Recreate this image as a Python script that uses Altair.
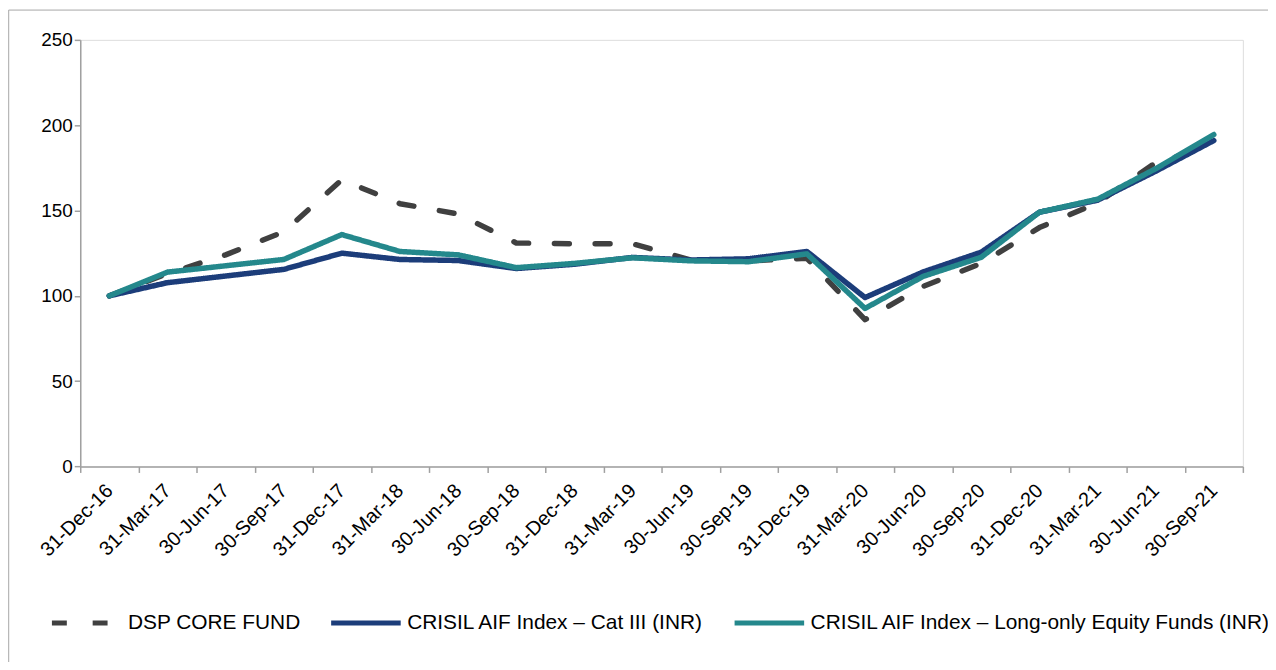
import altair as alt
import pandas as pd

dates = ["31-Dec-16", "31-Mar-17", "30-Jun-17", "30-Sep-17", "31-Dec-17", "31-Mar-18",
         "30-Jun-18", "30-Sep-18", "31-Dec-18", "31-Mar-19", "30-Jun-19", "30-Sep-19",
         "31-Dec-19", "31-Mar-20", "30-Jun-20", "30-Sep-20", "31-Dec-20", "31-Mar-21",
         "30-Jun-21", "30-Sep-21"]

dsp = [100, 113, 124, 137.5, 168, 154, 148, 131, 130.5, 130.5, 121, 120.5, 122, 86,
       105.5, 119, 140, 154.5, 178, 188]
cat3 = [100, 107.7, 111.6, 115.5, 125, 121.3, 120.7, 116, 118.5, 122.5, 121, 121.7, 126,
        99, 114, 125.6, 149, 156, 173, 191]
longonly = [100, 113.9, 117.6, 121.3, 135.9, 126, 124, 116.5, 119, 122.3, 120.5, 120,
            124.6, 92.6, 111.4, 122.6, 149, 156.6, 174.5, 194.5]

series_names = ["DSP CORE FUND",
                "CRISIL AIF Index \u2013 Cat III (INR)",
                "CRISIL AIF Index \u2013 Long-only Equity Funds (INR)"]
series_values = [dsp, cat3, longonly]
colors = ["#404040", "#1c3d7a", "#24888c"]
dashes = [[15, 26], [1, 0], [1, 0]]

FONT = "Liberation Sans"

x_enc = alt.X(
    "date:N", sort=dates, title=None,
    scale=alt.Scale(type="band", paddingInner=0, paddingOuter=0, domain=dates),
    axis=alt.Axis(tickBand="extent", labelAngle=-45, labelAlign="right",
                  labelBaseline="middle", labelPadding=15, labelFontSize=20,
                  labelFont=FONT, labelColor="#000000", domainColor="#a0a0a0",
                  tickColor="#a0a0a0", tickSize=6, domainWidth=1.5, tickWidth=1.5),
)
y_enc = alt.Y(
    "value:Q", title=None,
    scale=alt.Scale(domain=[0, 250], nice=False, zero=True),
    axis=alt.Axis(values=[0, 50, 100, 150, 200, 250], grid=False, labelFontSize=19,
                  labelFont=FONT, labelColor="#000000", domainColor="#a0a0a0",
                  tickColor="#a0a0a0", tickSize=6, labelPadding=2,
                  domainWidth=1.5, tickWidth=1.5),
)
color_enc = alt.Color(
    "series:N", title=None,
    scale=alt.Scale(domain=series_names, range=colors),
    legend=alt.Legend(orient="none", legendX=-31, legendY=549, direction="horizontal",
                      symbolType="stroke", symbolSize=4900, symbolStrokeWidth=5,
                      labelFontSize=21, labelFont=FONT, labelColor="#000000",
                      labelOffset=4, columnPadding=20, labelLimit=1000),
)
dash_enc = alt.StrokeDash(
    "series:N", title=None,
    scale=alt.Scale(domain=series_names, range=dashes),
)

layers = []
for name, vals in zip(series_names, series_values):
    df = pd.DataFrame({"date": dates, "value": vals, "series": name})
    layers.append(
        alt.Chart(df).mark_line(strokeWidth=5.5, strokeCap="round", strokeJoin="round")
        .encode(x=x_enc, y=y_enc, color=color_enc, strokeDash=dash_enc)
    )

frame_df = pd.DataFrame({"k": [0]})
left_rule = alt.Chart(frame_df).mark_rule(color="#a6a6a6", strokeWidth=1).encode(
    x=alt.value(-72), y=alt.value(-30), y2=alt.value(700))
top_rule = alt.Chart(frame_df).mark_rule(color="#a6a6a6", strokeWidth=1).encode(
    x=alt.value(-72), x2=alt.value(1300), y=alt.value(-30))

chart = alt.layer(left_rule, top_rule, *layers).properties(
    width=1170, height=429.3,
    autosize=alt.AutoSizeParams(type="none"),
    padding={"left": 72.7, "top": 30, "right": 25.3, "bottom": 194.7},
).configure_view(stroke=None).configure(background="#ffffff")

chart.save("out.html", embed_options={"renderer": "svg", "actions": False})
